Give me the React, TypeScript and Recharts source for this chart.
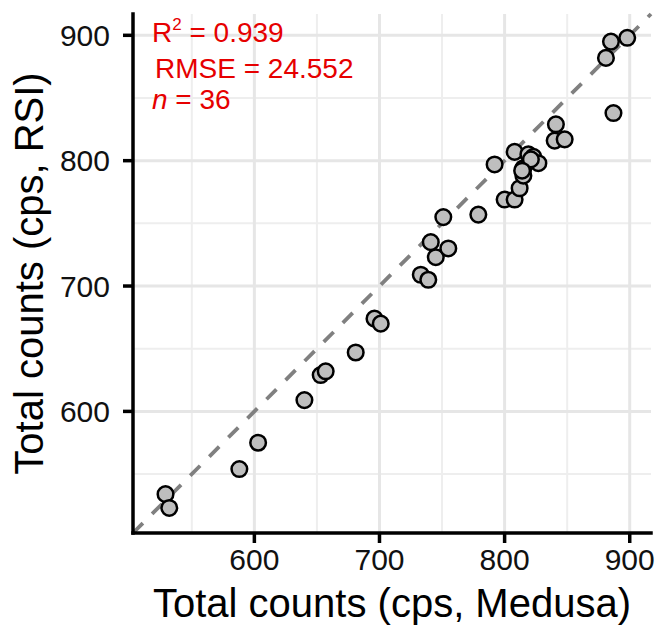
import React from "react";
import {
  CartesianGrid,
  ReferenceLine,
  Scatter,
  ScatterChart,
  XAxis,
  YAxis,
} from "recharts";

// Total counts: Medusa (x) vs RSI (y), one entry per sample
const medusa = [
  529, 532, 588, 603, 640, 653, 657, 681, 696, 701, 733, 739, 741, 745, 755,
  751, 779, 792, 800, 808, 812, 815, 815, 808, 819, 823, 827, 840, 848, 841,
  887, 881, 885, 898, 821, 814,
];
const rsi = [
  534, 523, 554, 575, 609, 629, 632, 647, 674, 670, 709, 705, 735, 723, 730,
  755, 757, 797, 769, 769, 778, 788, 794, 807, 805, 803, 798, 816, 817, 829,
  838, 882, 895, 898, 801, 792,
];

const majorTicks = [600, 700, 800, 900];
const minorTicks = [550, 650, 750, 850];
const axisDomain = [503, 917];

const stats = { r2: "0.939", rmse: "24.552", n: "36" };

const FONT = "'Liberation Sans', Arial, Helvetica, sans-serif";
const RED = "#e60000";

const points = medusa.map((x, i) => ({ x, y: rsi[i] }));

const Dot = (props: any) => (
  <circle
    cx={props.cx}
    cy={props.cy}
    r={7.8}
    fill="#bebebe"
    stroke="#000"
    strokeWidth={2.5}
  />
);

const tickStyle = { fill: "#111", fontSize: 30, fontFamily: FONT };
const axisLineStyle = { stroke: "#000", strokeWidth: 3.5, strokeLinecap: "square" as const };
const tickLineStyle = { stroke: "#000", strokeWidth: 3.5 };

export default function App() {
  return (
    <div
      style={{
        position: "absolute",
        left: 0,
        top: 0,
        width: 656,
        height: 636,
        background: "#fff",
      }}
    >
      <ScatterChart
        width={656}
        height={636}
        margin={{ top: 14, right: 5, bottom: 0, left: 0 }}
      >
        {/* minor grid first, then major grid on top */}
        <CartesianGrid
          stroke="#eeeeee"
          strokeWidth={2}
          verticalValues={minorTicks}
          horizontalValues={minorTicks}
        />
        <CartesianGrid
          stroke="#e6e6e6"
          strokeWidth={3}
          verticalValues={majorTicks}
          horizontalValues={majorTicks}
        />
        <XAxis
          type="number"
          dataKey="x"
          domain={axisDomain}
          ticks={majorTicks}
          allowDataOverflow
          height={103}
          tickSize={10}
          tickMargin={6}
          tick={tickStyle}
          axisLine={axisLineStyle}
          tickLine={tickLineStyle}
          label={{
            content: (p: any) => (
              <text
                x={p.viewBox.x + p.viewBox.width / 2}
                y={p.viewBox.y + 84}
                textAnchor="middle"
                fontSize={40}
                fontFamily={FONT}
                fill="#000"
              >
                Total counts (cps, Medusa)
              </text>
            ),
          }}
        />
        <YAxis
          type="number"
          dataKey="y"
          domain={axisDomain}
          ticks={majorTicks}
          allowDataOverflow
          width={133}
          tickSize={10}
          tickMargin={13}
          tick={tickStyle}
          axisLine={axisLineStyle}
          tickLine={tickLineStyle}
          label={{
            content: (p: any) => {
              const cx = p.viewBox.x + 43;
              const cy = p.viewBox.y + p.viewBox.height / 2;
              return (
                <text
                  x={cx}
                  y={cy}
                  transform={`rotate(-90, ${cx}, ${cy})`}
                  textAnchor="middle"
                  fontSize={40}
                  fontFamily={FONT}
                  fill="#000"
                >
                  Total counts (cps, RSI)
                </text>
              );
            },
          }}
        />
        {/* 1:1 line */}
        <ReferenceLine
          segment={[
            { x: axisDomain[0], y: axisDomain[0] },
            { x: axisDomain[1], y: axisDomain[1] },
          ]}
          stroke="#808080"
          strokeWidth={3.8}
          strokeDasharray="14 13"
          ifOverflow="visible"
        />
        <Scatter data={points} shape={Dot} isAnimationActive={false} />
      </ScatterChart>
      <svg
        width={656}
        height={636}
        style={{ position: "absolute", left: 0, top: 0, pointerEvents: "none" }}
      >
        <g fontFamily={FONT} fill={RED}>
          <text x={152} y={42} fontSize={28}>
            R
            <tspan fontSize={17} dy={-12}>
              2
            </tspan>
            <tspan fontSize={28} dy={12}>
              {" = " + stats.r2}
            </tspan>
          </text>
          <text x={155} y={78} fontSize={28}>
            {"RMSE = " + stats.rmse}
          </text>
          <text x={152} y={109} fontSize={28}>
            <tspan fontStyle="italic">n</tspan>
            {" = " + stats.n}
          </text>
        </g>
      </svg>
    </div>
  );
}
